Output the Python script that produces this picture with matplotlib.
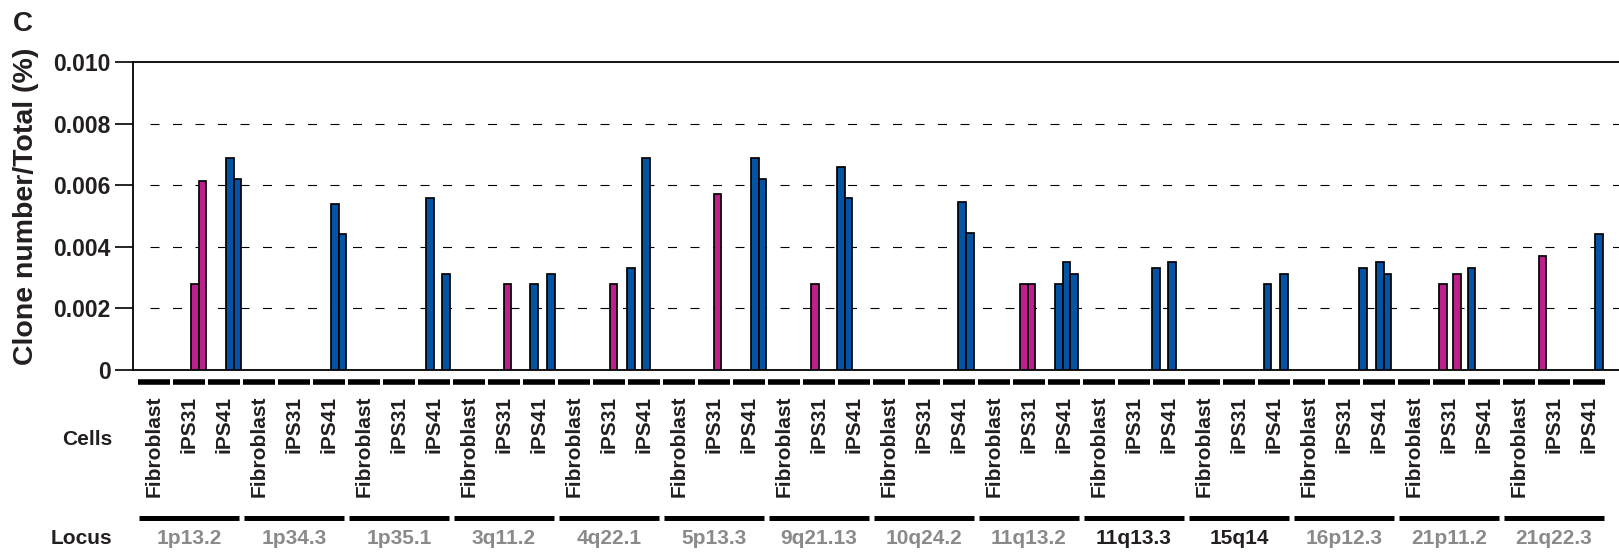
import matplotlib
matplotlib.use('Agg')
import matplotlib.pyplot as plt
from matplotlib.transforms import blended_transform_factory

plt.rcParams['font.family'] = ['Liberation Sans', 'DejaVu Sans']
plt.rcParams['font.weight'] = 'bold'

# data
loci = ['1p13.2', '1p34.3', '1p35.1', '3q11.2', '4q22.1', '5p13.3', '9q21.13',
        '10q24.2', '11q13.2', '11q13.3', '15q14', '16p12.3', '21p11.2', '21q22.3']
dark_loci = ['11q13.3', '15q14']
cells = ['Fibroblast', 'iPS31', 'iPS41']

# clone frequencies (%) per locus, one list per cell line
fibroblast_vals = [[] for _ in loci]
ips31_vals = [[0.0028, 0.00615], [], [], [0.0028], [0.0028], [0.0057], [0.0028], [],
              [0.0028, 0.0028], [], [], [], [0.0028, 0.0031], [0.0037]]
ips41_vals = [[0.0069, 0.0062], [0.0054, 0.0044], [0.0056, 0.0031], [0.0028, 0.0031],
              [0.0033, 0.0069], [0.0069, 0.0062], [0.0066, 0.0056], [0.00545, 0.00445],
              [0.0028, 0.0035, 0.0031], [0.0033, 0.0035], [0.0028, 0.0031],
              [0.0033, 0.0035, 0.0031], [0.0033], [0.0044]]
yticks = [0, 0.002, 0.004, 0.006, 0.008, 0.010]
ytick_labels = ['0', '0.002', '0.004', '0.006', '0.008', '0.010']

# layout: left edge (px) of each bar inside its 35 px cell slot
fib_lanes = [[] for _ in loci]
ips31_lanes = [[19.4, 27], [], [], [17], [18], [17], [9.4], [], [8.7, 16.3], [], [], [],
               [7.7, 21.7], [2]]
ips41_lanes = [[19.7, 27.3], [19.7, 27.3], [9.4, 25.4], [8.7, 25.4], [0.4, 15.4],
               [19.4, 27], [0.4, 8.0], [17, 24.6], [8.7, 16.3, 23.9], [0.4, 16.4],
               [7, 23.7], [-2.3, 14.4, 22.2], [1], [23.4]]

W, H = 1619, 552
SLOT = 35.0
fx = lambda px: px / W
fy = lambda py: (H - py) / H
dx = lambda px: (px - 154) / SLOT

magenta = '#bd1f8d'
blue = '#0454a6'
ink = '#231f20'

fig = plt.figure(figsize=(W / 100, H / 100), dpi=100)
left_px, right_px, top_px, zero_px = 133.3, 1625, 62.3, 369.6
ax = fig.add_axes([fx(left_px), fy(zero_px), (right_px - left_px) / W, (zero_px - top_px) / H])
ax.set_xlim(dx(left_px), dx(right_px))
ax.set_ylim(0, 0.010)

bw = 7.6 / SLOT
series = [(fibroblast_vals, fib_lanes, blue), (ips31_vals, ips31_lanes, magenta),
          (ips41_vals, ips41_lanes, blue)]
for c, (vals, lanes, col) in enumerate(series):
    for li in range(len(loci)):
        slot = 3 * li + c
        for v, off in zip(vals[li], lanes[li]):
            ax.bar(slot - 0.5 + off / SLOT, v, width=bw, align='edge', color=col,
                   edgecolor='black', linewidth=1.25, zorder=3)

# dashed grid
ax.hlines(yticks[1:-1], dx(150), dx(right_px), color='black', lw=0.8,
          linestyles=[(0, (8.1, 12.15))], zorder=1)

ax.set_yticks(yticks)
ax.set_yticklabels(ytick_labels, fontsize=16.5, fontweight='bold', color=ink)
ax.tick_params(axis='y', length=13, width=1.2, pad=3.5, color='black')
ax.set_xticks([])
for s in ['left', 'top', 'bottom']:
    ax.spines[s].set_linewidth(1.3)
    ax.spines[s].set_color('black')
ax.spines['right'].set_visible(False)

fig.text(fx(26), fy(206), 'Clone number/Total (%)', rotation=90, ha='center', va='center',
         fontsize=20.5, fontweight='bold', color=ink)
fig.text(fx(23), fy(24), 'C', ha='center', va='center', fontsize=20, fontweight='bold', color=ink)

# cell and locus rows under the axis
tr = blended_transform_factory(ax.transData, fig.transFigure)
for li, name in enumerate(loci):
    for c, cell in enumerate(cells):
        slot = 3 * li + c
        ax.plot([slot - 0.46, slot + 0.46], [fy(382.2)] * 2, color='black', lw=4,
                solid_capstyle='butt', transform=tr, clip_on=False)
        ax.text(slot, fy(395.5), cell, rotation=90, ha='center', va='top', fontsize=15,
                fontweight='bold', color=ink, transform=tr)
    x0, x1 = 3 * li - 0.5, 3 * li + 2.5
    ax.plot([x0 + 0.085, x1 - 0.085], [fy(518)] * 2, color='black', lw=3.6,
            solid_capstyle='butt', transform=tr, clip_on=False)
    ax.text(3 * li + 1, fy(539), name, ha='center', va='center', fontsize=15,
            fontweight='bold', color=ink if name in dark_loci else '#8a8a8d', transform=tr)

fig.text(fx(112.3), fy(439.3), 'Cells', ha='right', va='center', fontsize=15,
         fontweight='bold', color=ink)
fig.text(fx(112.3), fy(539), 'Locus', ha='right', va='center', fontsize=15,
         fontweight='bold', color=ink)

fig.savefig('out.png', dpi=100)
